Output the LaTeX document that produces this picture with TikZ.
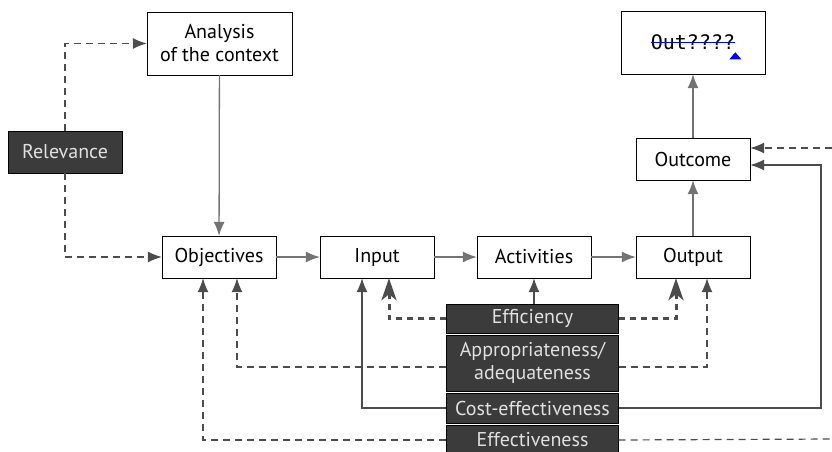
\documentclass[tikz,border=0pt]{standalone}
\usepackage{fontspec}
\setmainfont{PT Sans}
\newfontfamily\draftfont{DejaVu Sans Mono}
\usetikzlibrary{arrows.meta}
\definecolor{boxdark}{rgb}{0.23,0.23,0.23}
\definecolor{flowgray}{rgb}{0.45,0.45,0.45}
\definecolor{linkgray}{rgb}{0.3,0.3,0.3}

\begin{document}
\begin{tikzpicture}[x=1pt,y=-1pt,font=\fontsize{20}{23}\selectfont,
    stage/.style={draw=black,fill=white,minimum width=114pt,minimum height=42pt,inner sep=0pt,align=center},
    crit/.style={draw=black,fill=boxdark,text=white!88!black,minimum width=172pt,inner sep=0pt,align=center},
    flow/.style={draw=flowgray,line width=1.3pt,-{Latex[length=14pt,width=11pt]}},
    link/.style={draw=linkgray,line width=1.2pt,-{Latex[length=14pt,width=11pt]}},
    linkdash/.style={link,dash pattern=on 7pt off 5pt},
    boldlink/.style={draw=linkgray,line width=3pt,dash pattern=on 6pt off 5pt,-{Stealth[length=22pt,width=15pt,inset=6pt]}}]
    \useasboundingbox (0,0) rectangle (832,451);
    % chain of stages
    \node[stage,minimum width=145pt,minimum height=63pt] (context) at (219.5,43.5) {Analysis\\of the context};
    \foreach \name/\txt/\x in {objectives/Objectives/219,input/Input/377,activities/Activities/534,output/Output/693}
        \node[stage] (\name) at (\x,257) {\txt};
    \node[stage] (outcome) at (693,159) {Outcome};
    \node[stage,minimum width=144pt,minimum height=63pt] (impact) at (693,42.5) {};
    \node[font=\draftfont\fontsize{20}{22}\selectfont,inner sep=0pt] (draft) at (impact) {Out????};
    \draw[blue,line width=1.4pt] (draft.west) -- (draft.east);
    \fill[blue] ([yshift=-2pt]draft.south east) -- ++(6pt,-7pt) -- ++(-12pt,0pt) -- cycle;
    % criteria
    \node[crit,minimum width=114pt,minimum height=42pt] (relevance) at (65,152) {Relevance};
    \node[crit,minimum height=29pt] (efficiency) at (532.5,318.5) {Efficiency};
    \node[crit,minimum height=56pt] (adequacy) at (532.5,363) {Appropriateness/\\adequateness};
    \node[crit,minimum height=30pt] (costeff) at (532.5,408) {Cost-effectiveness};
    \node[crit,minimum height=30pt] (effective) at (532.5,440) {Effectiveness};
    \coordinate (bend) at (821,165);
    \coordinate (edgehigh) at (832,148);
    \coordinate (edgelow) at (832,439);
    % connectors
    \draw[flow] (context) -- (objectives);
    \foreach \a/\b in {objectives/input,input/activities,activities/output}
        \draw[flow] (\a) -- (\b);
    \draw[flow] (output) -- (outcome);
    \draw[flow] (outcome) -- (impact);
    \draw[linkdash] (relevance.north) |- (context.west);
    \draw[linkdash] (relevance.south) |- (objectives.west);
    \draw[link] (efficiency.north -| activities.south) -- (activities.south);
    \draw[boldlink] (efficiency.west) -| ([xshift=12pt]input.south);
    \draw[boldlink] (efficiency.east) -| ([xshift=-17pt]output.south);
    \draw[linkdash] ([yshift=-4pt]adequacy.west) -| ([xshift=18pt]objectives.south);
    \draw[linkdash] ([yshift=-4pt]adequacy.east) -| ([xshift=14pt]output.south);
    \draw[link] (costeff.west) -| ([xshift=-15pt]input.south);
    \draw[link] (costeff.east) -| (bend) -- (bend -| outcome.east);
    \draw[linkdash] (effective.west) -| ([xshift=-16pt]objectives.south);
    \draw[linkdash,-] (effective.east) -- (edgelow);
    \draw[linkdash] (edgehigh) -- (edgehigh -| outcome.east);
\end{tikzpicture}
\end{document}
